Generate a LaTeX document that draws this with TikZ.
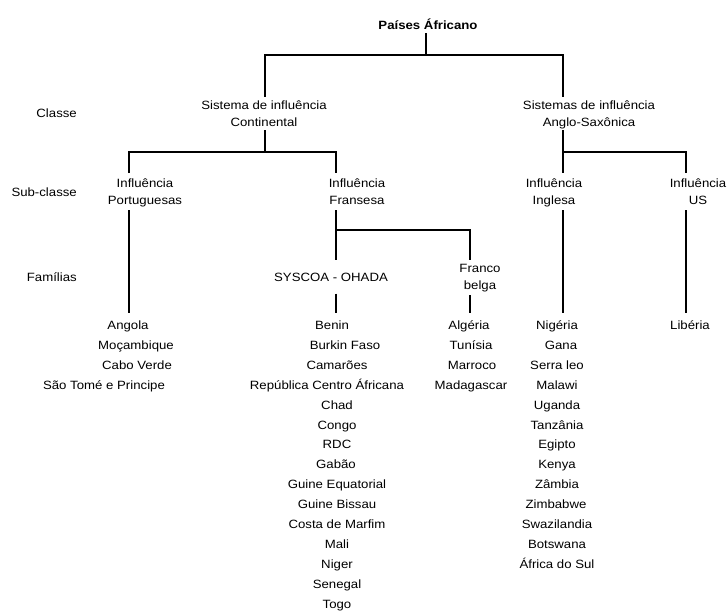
\documentclass[tikz,border=0pt]{standalone}
\usepackage{fontspec}
\setmainfont{Liberation Sans}[FakeStretch=1.1]
\usepackage{tikz}

\begin{document}
\begin{tikzpicture}[x=1pt,y=-1pt,
                ramo/.style={line width=2.8pt},
                texto/.style={anchor=base,inner sep=0pt,align=center,font=\fontsize{12}{17}\selectfont},
                nivel/.style={texto,anchor=base east},
                grupo/.style={texto,text height=31pt,text depth=5.7pt},
                pais/.style={texto,text height=16.1pt,text depth=2.5pt}
                ]
            \useasboundingbox (0,0) rectangle (727,610);

            \node[texto,font=\fontsize{12}{17}\selectfont\bfseries,text height=11pt,text depth=4pt] (titulo) at (428,29.3) {Países Áfricano};

            \node[nivel] (classe) at (77,117.3) {Classe};
            \node[nivel] (subclasse) at (77,196) {Sub-classe};
            \node[nivel] (familias) at (77,281.3) {Famílias};

            % two-line nodes sit on their last line
            \node[texto,text height=29.3pt,text depth=3.7pt] (cont) at (264,126.3) {Sistema de influência\\Continental};
            \node[texto,text height=29.3pt,text depth=3.7pt] (anglo) at (589,126.3) {Sistemas de influência\\Anglo-Saxônica};

            \node[grupo] (port) at (145,204.3) {Influência\\Portuguesas};
            \node[grupo] (fran) at (357,204.3) {Influência\\Fransesa};
            \node[grupo] (ingl) at (554,204.3) {Influência\\Inglesa};
            \node[grupo] (us) at (698,204.3) {Influência\\US};

            \node[texto,text height=21.3pt,text depth=12pt] (syscoa) at (331,281.3) {SYSCOA - OHADA};
            \node[texto,text height=29.3pt,text depth=5.7pt] (franco) at (480,289.3) {Franco\\belga};

            % paises
            \foreach \pais/\dx [count=\i] in {Angola/0, Moçambique/8, Cabo Verde/9, São Tomé e Principe/-24}
                \node[pais] (ang\i) at ({128+(\dx)},{329.4+19.93*(\i-1)}) {\pais};
            \foreach \pais/\dx [count=\i] in {Benin/-5, Burkin Faso/8, Camarões/0, República Centro Áfricana/-10,
                    Chad/0, Congo/0, RDC/0, Gabão/-1, Guine Equatorial/0, Guine Bissau/0,
                    Costa de Marfim/0, Mali/0, Niger/0, Senegal/0, Togo/0}
                \node[pais] (ben\i) at ({337+(\dx)},{329.4+19.93*(\i-1)}) {\pais};
            \foreach \pais/\dx [count=\i] in {Algéria/-2, Tunísia/0, Marroco/1, Madagascar/0}
                \node[pais] (alg\i) at ({471+(\dx)},{329.4+19.93*(\i-1)}) {\pais};
            \foreach \pais/\dx [count=\i] in {Nigéria/0, Gana/4, Serra leo/0, Malawi/0, Uganda/0, Tanzânia/0,
                    Egipto/0, Kenya/0, Zâmbia/0, Zimbabwe/-1, Swazilandia/0, Botswana/0, África do Sul/0}
                \node[pais] (nig\i) at ({557+(\dx)},{329.4+19.93*(\i-1)}) {\pais};
            \node[pais] (lib1) at (690,329.4) {Libéria};

            \coordinate (t0) at (426,55);
            \coordinate (t1) at (265,152);
            \coordinate (t2) at (563,152);
            \coordinate (t3) at (336,230);
            \coordinate (cPort) at (129,152);
            \coordinate (cFran) at (336,152);
            \coordinate (cUS) at (686,152);
            \coordinate (cFB) at (470,230);

            \draw[ramo] (titulo.south -| t0) -- (t0);
            \draw[ramo] (cont.north -| t1) |- (t0) -| (anglo.north -| t2);

            \draw[ramo] (cont.south -| t1) -- (t1);
            \draw[ramo] (port.north -| cPort) |- (t1) -| (fran.north -| cFran);
            \draw[ramo] (anglo.south -| t2) -- (ingl.north -| t2);
            \draw[ramo] (t2) -| (us.north -| cUS);

            \draw[ramo] (port.south -| cPort) -- (ang1.north -| cPort);
            \draw[ramo] (fran.south -| cFran) -- (syscoa.north -| cFran);
            \draw[ramo] (t3) -| (franco.north -| cFB);
            \draw[ramo] (syscoa.south -| cFran) -- (ben1.north -| cFran);
            \draw[ramo] (franco.south -| cFB) -- (alg1.north -| cFB);
            \draw[ramo] (ingl.south -| t2) -- (nig1.north -| t2);
            \draw[ramo] (us.south -| cUS) -- (lib1.north -| cUS);

            \end{tikzpicture}
\end{document}
